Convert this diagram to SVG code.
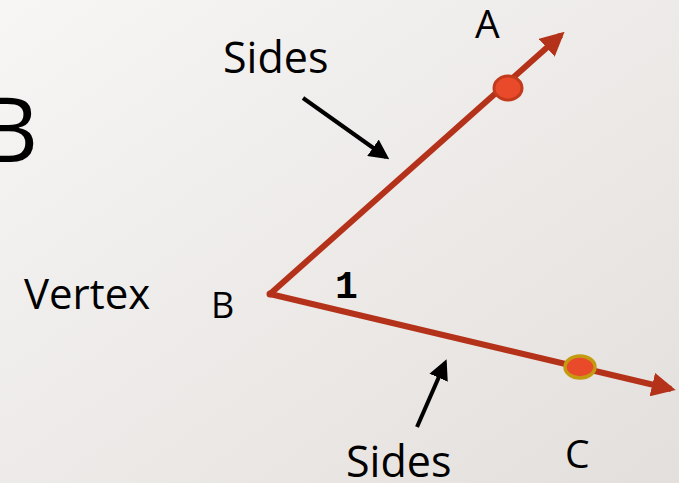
<svg xmlns="http://www.w3.org/2000/svg" width="679" height="483" viewBox="0 0 679 483">
<defs>
<linearGradient id="bg" x1="0" y1="0" x2="1" y2="1">
<stop offset="0" stop-color="#f7f6f5"/>
<stop offset="1" stop-color="#e3dfdc"/>
</linearGradient>
<marker id="red" viewBox="0 0 10 10" refX="8" refY="5" markerWidth="4" markerHeight="4" orient="auto" markerUnits="strokeWidth">
<path d="M0,0 L10,5 L0,10 z" fill="#b5321a"/>
</marker>
<marker id="blk" viewBox="0 0 10 10" refX="8" refY="5" markerWidth="5" markerHeight="5" orient="auto" markerUnits="strokeWidth">
<path d="M0,0 L10,5 L0,10 z" fill="#000"/>
</marker>
</defs>
<style>
text{font-family:"Open Sans","DejaVu Sans",sans-serif;fill:#000}
.ray{stroke:#b5321a;stroke-width:6;fill:none;marker-end:url(#red)}
.ptr{stroke:#000;stroke-width:4;fill:none;marker-end:url(#blk)}
.num{font-family:"Liberation Mono",monospace;font-weight:bold}
</style>
<rect width="679" height="483" fill="url(#bg)"/>
<text x="-20" y="162" font-size="90">B</text>
<g id="connectors">
<line class="ray" x1="270" y1="294" x2="561" y2="35"/>
<line class="ray" x1="270" y1="294" x2="671" y2="389"/>
<line class="ptr" x1="303" y1="98" x2="386" y2="157"/>
<line class="ptr" x1="417" y1="427" x2="445" y2="363"/>
</g>
<g id="vertexB"><circle cx="270" cy="294" r="3.5" fill="#b5321a"/></g>
<g id="pointA"><ellipse cx="508" cy="88" rx="14" ry="12" fill="#e84a2a" stroke="#c23a1c" stroke-width="3"/></g>
<g id="pointC"><ellipse cx="580" cy="367" rx="15" ry="11" fill="#e84a2a" stroke="#c49a10" stroke-width="3.5"/></g>
<g id="labels">
<text x="475" y="38" font-size="39">A</text>
<text x="223" y="73" font-size="43">Sides</text>
<text x="24" y="309" font-size="42">Vertex</text>
<text x="211" y="318" font-size="36">B</text>
<text class="num" x="335" y="298" font-size="38">1</text>
<text x="346" y="477" font-size="43">Sides</text>
<text x="565" y="468" font-size="39">C</text>
</g>
</svg>
